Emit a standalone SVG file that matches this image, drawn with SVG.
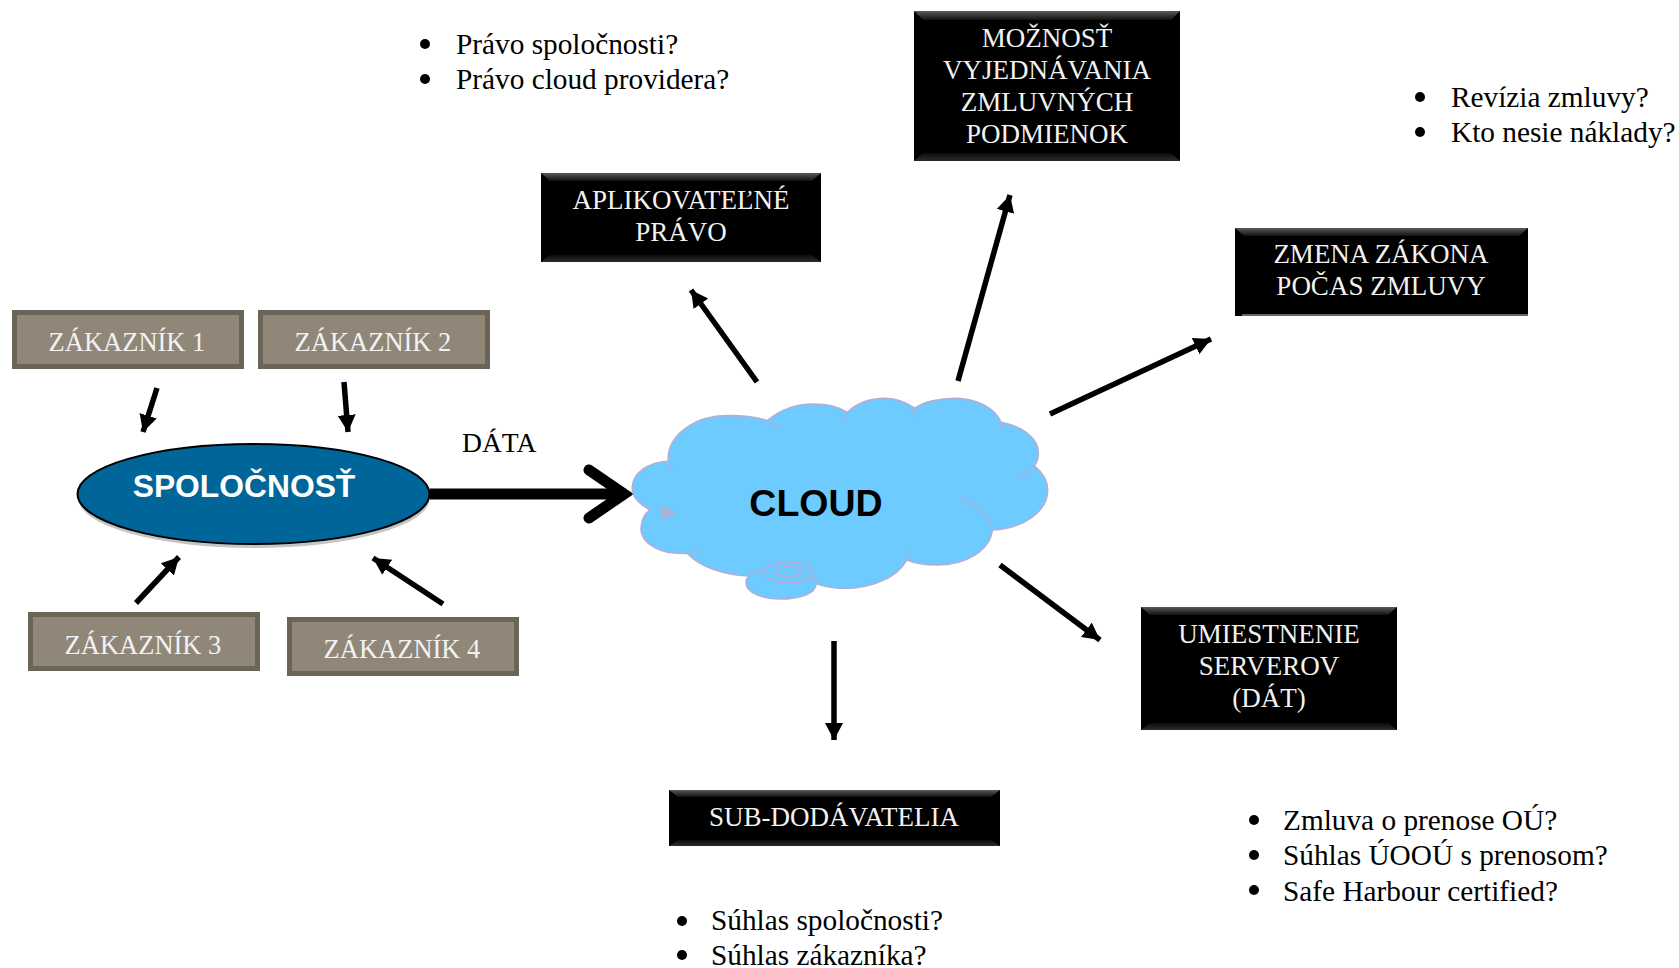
<svg xmlns="http://www.w3.org/2000/svg" width="1679" height="968" viewBox="0 0 1679 968">
<style>
text{font-family:"Liberation Serif","Times New Roman",serif;font-size:27px}
.w{fill:#f2f2f2;text-anchor:middle}
.z{fill:#f2f2f2;text-anchor:middle;font-size:26.5px}
.t{fill:#000;font-size:29.3px}
.c{fill:#6b6557}.ci{fill:#918779}
.k{fill:#000}
.bt{fill:url(#gt)}.bb{fill:url(#gb)}
.cl{fill:#6ecbff;stroke:#afafd8;stroke-width:5}
.ln{fill:none;stroke:#afafd8;stroke-width:5}
.a{stroke:#000;stroke-width:5.500;fill:none;marker-end:url(#h)}
.s{font-family:"Liberation Sans",Arial,sans-serif;font-weight:700;text-anchor:middle}
</style>
<defs>
<marker id="h" markerUnits="userSpaceOnUse" markerWidth="20" markerHeight="20" refX="17" refY="9" orient="auto"><path d="M0 0L17 9L0 18z" fill="#000"/></marker>
<linearGradient id="gt" x1="0" y1="0" x2="0" y2="1"><stop offset="0" stop-color="#5a5a5a"/><stop offset="1" stop-color="#111"/></linearGradient>
<linearGradient id="gb" x1="0" y1="0" x2="0" y2="1"><stop offset="0" stop-color="#0c0c0c"/><stop offset="1" stop-color="#2c2c2c"/></linearGradient>
</defs>
<g id="connectors">
<path class="a" d="M157 388L143 432"/>
<path class="a" d="M344 382L348 432"/>
<path class="a" d="M136 603L179 557"/>
<path class="a" d="M443 604L373 558"/>
<path class="a" d="M757 382L691 290"/>
<path class="a" d="M958 381L1010 195"/>
<path class="a" d="M1050 414L1211 339"/>
<path class="a" d="M1000 565L1100 640"/>
<path class="a" d="M834 641L834 740"/>
<path d="M430 494H626" fill="none" stroke="#000" stroke-width="11"/>
<path d="M589 470L624 494L589 518" fill="none" stroke="#000" stroke-width="11" stroke-linecap="round"/>
</g>
<g id="z1"><rect class="c" x="12" y="310" width="232" height="59"/><rect class="ci" x="17" y="315" width="222" height="49"/><text class="z" x="127" y="351">ZÁKAZNÍK 1</text></g>
<g id="z2"><rect class="c" x="258" y="310" width="232" height="59"/><rect class="ci" x="263" y="315" width="222" height="49"/><text class="z" x="373" y="351">ZÁKAZNÍK 2</text></g>
<g id="z3"><rect class="c" x="28" y="612" width="232" height="59"/><rect class="ci" x="33" y="617" width="222" height="49"/><text class="z" x="143" y="654">ZÁKAZNÍK 3</text></g>
<g id="z4"><rect class="c" x="287" y="617" width="232" height="59"/><rect class="ci" x="292" y="622" width="222" height="49"/><text class="z" x="402" y="658">ZÁKAZNÍK 4</text></g>
<g id="spolocnost">
<ellipse cx="254" cy="498" rx="176" ry="50" fill="#c4c4c4"/>
<ellipse cx="253.500" cy="494" rx="176" ry="50" fill="#006699" stroke="#000" stroke-width="2"/>
<text class="s" x="244" y="497" style="font-size:31.800px;fill:#fff">SPOLOČNOSŤ</text>
</g>
<text class="t" x="462" y="452" style="font-size:27.600px">DÁTA</text>
<g id="cloud">
<g transform="translate(600 380) scale(.33333)">
<path class="cl" d="M150 390C115 370 95 350 97 320C100 280 140 248 205 243C200 170 280 105 390 107C430 107 470 112 502 122C540 90 590 72 640 72C680 72 715 80 742 97C770 70 810 55 855 55C890 55 915 65 945 85C970 65 1020 55 1065 55C1130 55 1185 85 1203 127C1270 140 1315 175 1315 220C1315 235 1310 248 1303 258C1330 280 1343 305 1343 330C1343 395 1270 445 1177 450C1170 510 1100 555 1010 555C975 555 945 550 920 540C890 595 810 625 735 625C700 625 670 620 645 610L445 588C370 585 300 560 262 520C180 525 122 490 123 445C125 420 135 400 150 390z"/>
<path class="ln" d="M205 243L215 265M502 122L540 143M742 97L733 118M935 108L950 80M1203 127L1203 147M1303 258C1290 272 1275 284 1258 293M1177 450C1175 410 1130 375 1080 356M920 540L930 510M262 520L300 514"/>
<path d="M183 376L230 400L183 420z" fill="#afafd8"/>
<path class="cl" d="M493 568C455 578 437 590 438 608C440 640 490 657 540 657C600 657 650 640 648 610C648 600 640 590 632 585"/>
<ellipse class="ln" cx="565" cy="577" rx="71" ry="32"/>
<ellipse class="ln" cx="565" cy="575" rx="36" ry="16"/>
</g>
<text class="s" x="816" y="516" style="font-size:37.500px;fill:#000">CLOUD</text>
</g>
<g id="moznost"><rect class="k" x="914" y="11" width="266" height="150"/><path class="bt" d="M914 11H1180L1171 20H923z"/><path class="bb" d="M914 161H1180L1171 153H923z"/>
<text class="w" x="1047" y="47">MOŽNOSŤ</text><text class="w" x="1047" y="79">VYJEDNÁVANIA</text><text class="w" x="1047" y="111">ZMLUVNÝCH</text><text class="w" x="1047" y="143">PODMIENOK</text></g>
<g id="pravo"><rect class="k" x="541" y="173" width="280" height="89"/><path class="bt" d="M541 173H821L812 181H550z"/><path class="bb" d="M541 262H821L812 255H550z"/>
<text class="w" x="681" y="209">APLIKOVATEĽNÉ</text><text class="w" x="681" y="241">PRÁVO</text></g>
<g id="zmena"><rect class="k" x="1235" y="228" width="293" height="88"/><path class="bt" d="M1235 228H1528L1519 236H1244z"/><path d="M1242 315H1528" stroke="#888" stroke-width="1.500"/>
<text class="w" x="1381" y="263">ZMENA ZÁKONA</text><text class="w" x="1381" y="295">POČAS ZMLUVY</text></g>
<g id="servery"><rect class="k" x="1141" y="607" width="256" height="123"/><path class="bt" d="M1141 607H1397L1388 615H1150z"/><path class="bb" d="M1141 730H1397L1388 723H1150z"/>
<text class="w" x="1269" y="643">UMIESTNENIE</text><text class="w" x="1269" y="675">SERVEROV</text><text class="w" x="1269" y="707">(DÁT)</text></g>
<g id="sub"><rect class="k" x="669" y="790" width="331" height="56"/><path class="bt" d="M669 790H1000L991 797H678z"/><path class="bb" d="M669 846H1000L991 840H678z"/>
<text class="w" x="834" y="826">SUB-DODÁVATELIA</text></g>
<g id="notes">
<circle cx="425" cy="44" r="5"/><text class="t" x="456" y="54">Právo spoločnosti?</text>
<circle cx="425" cy="79" r="5"/><text class="t" x="456" y="89">Právo cloud providera?</text>
<circle cx="1420" cy="97" r="5"/><text class="t" x="1451" y="107">Revízia zmluvy?</text>
<circle cx="1420" cy="132" r="5"/><text class="t" x="1451" y="142">Kto nesie náklady?</text>
<circle cx="1254" cy="820" r="5"/><text class="t" x="1283" y="830">Zmluva o prenose OÚ?</text>
<circle cx="1254" cy="855" r="5"/><text class="t" x="1283" y="865">Súhlas ÚOOÚ s prenosom?</text>
<circle cx="1254" cy="890" r="5"/><text class="t" x="1283" y="901">Safe Harbour certified?</text>
<circle cx="682" cy="921" r="5"/><text class="t" x="711" y="930">Súhlas spoločnosti?</text>
<circle cx="682" cy="955" r="5"/><text class="t" x="711" y="965">Súhlas zákazníka?</text>
</g>
</svg>
